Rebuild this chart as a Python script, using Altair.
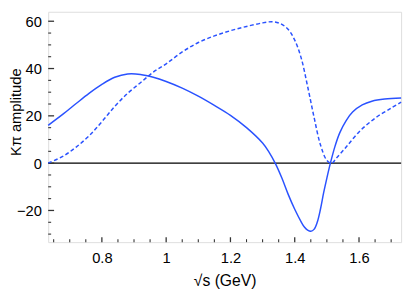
import altair as alt
import pandas as pd

# Solid curve (sqrt(s) in GeV, amplitude)
solid_x = [0.633, 0.68, 0.72, 0.76, 0.80, 0.84, 0.88, 0.92, 0.96, 1.0, 1.05, 1.10, 1.15,
           1.20, 1.25, 1.30, 1.32, 1.34, 1.36, 1.38, 1.40, 1.42, 1.43, 1.44, 1.45, 1.46, 1.47,
           1.48, 1.49, 1.50, 1.511, 1.525, 1.54, 1.56, 1.58, 1.61, 1.64, 1.68, 1.731]
solid_y = [16.0, 20.8, 25.2, 29.5, 33.3, 36.3, 37.7, 37.5, 36.3, 34.5, 31.7, 28.3, 24.4,
           20.2, 15.0, 8.5, 4.7, -0.2, -6.3, -13.3, -19.5, -24.8, -27.0, -28.3, -28.8, -28.0, -25.0,
           -19.5, -12.5, -6.3, 0.0, 7.0, 12.8, 18.0, 21.6, 24.6, 26.2, 27.1, 27.5]

# Dashed curve
dash_x = [0.633, 0.68, 0.72, 0.76, 0.80, 0.84, 0.88, 0.92, 0.96, 1.0, 1.05, 1.10, 1.15,
          1.20, 1.25, 1.30, 1.33, 1.355, 1.38, 1.40, 1.42, 1.44, 1.46, 1.48, 1.50, 1.515,
          1.53, 1.56, 1.60, 1.65, 1.70, 1.731]
dash_y = [0.0, 3.0, 6.8, 11.5, 17.5, 24.0, 29.5, 34.0, 38.5, 42.0, 47.0, 51.0, 53.8,
          56.0, 57.8, 59.3, 59.8, 59.0, 56.5, 52.0, 44.5, 32.5, 19.5, 7.8, 1.2, 0.0,
          2.2, 6.8, 13.2, 19.0, 23.3, 25.8]

x_labels = [0.8, 1.0, 1.2, 1.4, 1.6]
x_minor = [0.65, 0.7, 0.75, 0.85, 0.9, 0.95, 1.05, 1.1, 1.15, 1.25, 1.3, 1.35,
           1.45, 1.5, 1.55, 1.65, 1.7]
y_labels = [-20, 0, 20, 40, 60]
y_minor = [-30, -25, -15, -10, -5, 5, 10, 15, 25, 30, 35, 45, 50, 55]

X_DOMAIN = [0.633, 1.731]
Y_DOMAIN = [-33.4, 64]
W, H = 360, 235
BLUE = "#2a52ff"
FONT = "Liberation Sans"

xs = alt.Scale(domain=X_DOMAIN, nice=False, zero=False)
ys = alt.Scale(domain=Y_DOMAIN, nice=False, zero=False)

xaxis = alt.Axis(values=x_labels, ticks=False, domain=False, grid=False,
                 labelFontSize=15, labelFont=FONT, labelColor="black", labelPadding=9,
                 labelExpr="format(datum.value, '')",
                 title="√s (GeV)", titleFontSize=16, titleFont=FONT, titleFontWeight="normal",
                 titleColor="black", titleY=44, titleBaseline="alphabetic")
yaxis = alt.Axis(values=y_labels, ticks=False, domain=False, grid=False,
                 labelFontSize=15, labelFont=FONT, labelColor="black", labelPadding=7,
                 title="Kπ amplitude", titleFontSize=15, titleFont=FONT, titleFontWeight="normal",
                 titleColor="black", titleX=-28, titleY=102, titleAngle=-90,
                 titleAlign="center", titleBaseline="alphabetic")

df_s = pd.DataFrame({"x": solid_x, "y": solid_y})
df_d = pd.DataFrame({"x": dash_x, "y": dash_y})

solid = alt.Chart(df_s).mark_line(color=BLUE, strokeWidth=1.5, interpolate="catmull-rom").encode(
    x=alt.X("x:Q", scale=xs, axis=xaxis),
    y=alt.Y("y:Q", scale=ys, axis=yaxis),
)
dashed = alt.Chart(df_d).mark_line(color=BLUE, strokeWidth=1.5, strokeDash=[4, 2.5],
                                   interpolate="catmull-rom").encode(
    x=alt.X("x:Q", scale=xs),
    y=alt.Y("y:Q", scale=ys),
)
zero = alt.Chart(pd.DataFrame({"y": [0]})).mark_rule(color="black", strokeWidth=1.2).encode(
    y=alt.Y("y:Q", scale=ys)
)

xmaj = alt.Chart(pd.DataFrame({"x": x_labels})).mark_rule(color="#333", strokeWidth=1.3).encode(
    x=alt.X("x:Q", scale=xs), y=alt.value(H), y2=alt.value(H - 5))
xmin = alt.Chart(pd.DataFrame({"x": x_minor})).mark_rule(color="#333", strokeWidth=1.1).encode(
    x=alt.X("x:Q", scale=xs), y=alt.value(H), y2=alt.value(H - 3))
ymaj = alt.Chart(pd.DataFrame({"y": y_labels})).mark_rule(color="#333", strokeWidth=1.3).encode(
    y=alt.Y("y:Q", scale=ys), x=alt.value(0), x2=alt.value(6))
ymin = alt.Chart(pd.DataFrame({"y": y_minor})).mark_rule(color="#333", strokeWidth=1.1).encode(
    y=alt.Y("y:Q", scale=ys), x=alt.value(0), x2=alt.value(3))

chart = alt.layer(zero, xmaj, xmin, ymaj, ymin, dashed, solid).properties(
    width=W, height=H,
    autosize=alt.AutoSizeParams(type="none"),
    padding={"left": 41, "top": 1, "right": 6, "bottom": 48},
).configure_view(stroke="#444", strokeWidth=1.7).configure(background="white")

chart.save("out.html", embed_options={"renderer": "svg", "actions": False})
